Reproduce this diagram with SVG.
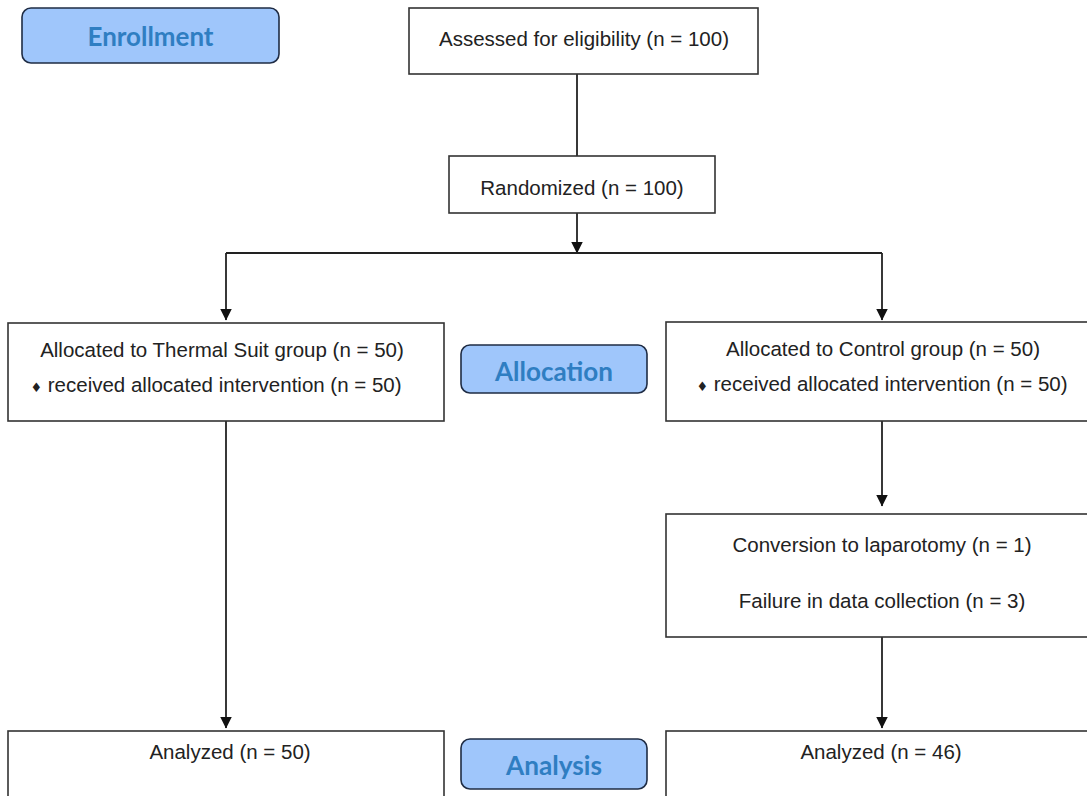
<svg xmlns="http://www.w3.org/2000/svg" width="1087" height="796" viewBox="0 0 1087 796">
<style>
.box{fill:#fff;stroke:#333;stroke-width:1.6}
.lab{fill:#9fc6fb;stroke:#1f2c44;stroke-width:1.6}
.t{font-family:"Liberation Sans",Arial,sans-serif;font-size:20.5px;fill:#222;text-anchor:middle}
.lt{font-family:Lato,"Open Sans",sans-serif;font-weight:bold;font-size:27px;fill:#2f7ec2;text-anchor:middle}
.b{font-family:"DejaVu Sans",sans-serif;font-size:13px}
.c{stroke:#222;stroke-width:1.8;fill:none}
</style>
<defs>
<marker id="ah" markerUnits="userSpaceOnUse" markerWidth="12" markerHeight="12" viewBox="0 0 12 12" refX="11.5" refY="6" orient="auto">
<path d="M0,0 L12,6 L0,12 z" fill="#111"/>
</marker>
</defs>
<rect width="1087" height="796" fill="#fff"/>
<g id="connectors">
<line class="c" x1="577" y1="74" x2="577" y2="156"/>
<line class="c" x1="577" y1="213" x2="577" y2="253" marker-end="url(#ah)"/>
<line class="c" x1="226" y1="253" x2="882" y2="253"/>
<line class="c" x1="226" y1="253" x2="226" y2="320" marker-end="url(#ah)"/>
<line class="c" x1="882" y1="253" x2="882" y2="320" marker-end="url(#ah)"/>
<line class="c" x1="226" y1="421" x2="226" y2="728" marker-end="url(#ah)"/>
<line class="c" x1="882" y1="421" x2="882" y2="506" marker-end="url(#ah)"/>
<line class="c" x1="882" y1="637" x2="882" y2="728" marker-end="url(#ah)"/>
</g>
<g id="enrollment">
<rect class="lab" x="22" y="8" width="257" height="55" rx="9"/>
<text class="lt" x="150.5" y="46" textLength="126" lengthAdjust="spacingAndGlyphs">Enrollment</text>
</g>
<g id="assessed">
<rect class="box" x="409" y="8" width="349" height="66"/>
<text class="t" x="584" y="46">Assessed for eligibility (n = 100)</text>
</g>
<g id="randomized">
<rect class="box" x="449" y="156" width="266" height="57"/>
<text class="t" x="582" y="195">Randomized (n = 100)</text>
</g>
<g id="thermal">
<rect class="box" x="8" y="323" width="436" height="98"/>
<text class="t" x="222" y="357">Allocated to Thermal Suit group (n = 50)</text>
<text class="t" x="216" y="392"><tspan class="b">♦</tspan> received allocated intervention (n = 50)</text>
</g>
<g id="allocation">
<rect class="lab" x="461" y="345" width="186" height="48" rx="9"/>
<text class="lt" x="554" y="381" textLength="118" lengthAdjust="spacingAndGlyphs">Allocation</text>
</g>
<g id="control">
<rect class="box" x="666" y="322" width="440" height="99"/>
<text class="t" x="883" y="356">Allocated to Control group (n = 50)</text>
<text class="t" x="882" y="391"><tspan class="b">♦</tspan> received allocated intervention (n = 50)</text>
</g>
<g id="conversion">
<rect class="box" x="666" y="514" width="440" height="123"/>
<text class="t" x="882" y="552">Conversion to laparotomy (n = 1)</text>
<text class="t" x="882" y="608">Failure in data collection (n = 3)</text>
</g>
<g id="analyzed-left">
<rect class="box" x="8" y="731" width="436" height="80"/>
<text class="t" x="230" y="759">Analyzed (n = 50)</text>
</g>
<g id="analysis">
<rect class="lab" x="461" y="739" width="186" height="50" rx="9"/>
<text class="lt" x="554" y="775" textLength="96" lengthAdjust="spacingAndGlyphs">Analysis</text>
</g>
<g id="analyzed-right">
<rect class="box" x="666" y="731" width="440" height="80"/>
<text class="t" x="881" y="759">Analyzed (n = 46)</text>
</g>
</svg>
